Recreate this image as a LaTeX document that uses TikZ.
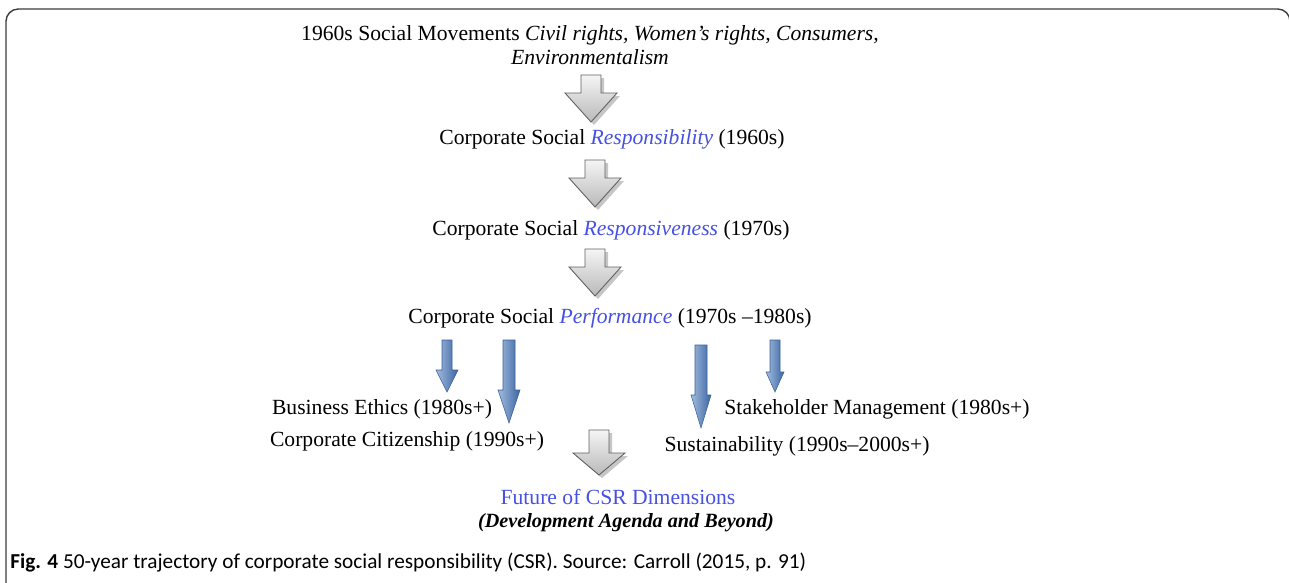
\documentclass[tikz,border=0pt]{standalone}
\usepackage{fontspec}
\setmainfont{Liberation Serif}
\newfontfamily\capfont{Carlito}
\usetikzlibrary{positioning}
\definecolor{csrblue}{RGB}{70,80,225}
\definecolor{arrowblue}{RGB}{70,120,190}
\definecolor{framegray}{RGB}{60,60,60}

% block arrow: [style] {x} {y top} {y head} {y tip} {shaft half} {head half}
\newcommand{\blockarrow}[7][]{%
  \draw[#1] (#2-#6,#3) -- (#2+#6,#3) -- (#2+#6,#4) -- (#2+#7,#4)
    -- (#2,#5) -- (#2-#7,#4) -- (#2-#6,#4) -- cycle;}

\tikzset{
  lbl/.style={font=\fontsize{12.3}{13.6}\selectfont, inner sep=0pt, align=center},
  graybox/.style={top color=gray!8, bottom color=gray!55, draw=gray!75!black, line width=0.5pt},
  grayshadow/.style={fill=gray!45, draw=none},
  bluebox/.style={left color=arrowblue!50!white, right color=arrowblue!85!black, draw=arrowblue!80!black, line width=0.3pt},
}

\begin{document}
\begin{tikzpicture}[x=0.02cm, y=-0.02cm]
  \useasboundingbox (0,0) rectangle (1289,582);
  \draw[framegray, line width=0.8pt, rounded corners=7pt] (6,9) rectangle (1290,600);

  % text
  \node[lbl] (sixties) at (590,45) {1960s Social Movements \textit{Civil rights, Women’s rights, Consumers,}\\ \textit{Environmentalism}};
  \node[lbl] (resp) at (612,139) {Corporate Social \textcolor{csrblue}{\textit{Responsibility}} (1960s)};
  \node[lbl] (respv) at (611,230) {Corporate Social \textcolor{csrblue}{\textit{Responsiveness}} (1970s)};
  \node[lbl] (perf) at (610,318) {Corporate Social \textcolor{csrblue}{\textit{Performance}} (1970s --1980s)};
  \node[lbl] (ethics) at (382,409) {Business Ethics (1980s+)};
  \node[lbl] (citizen) at (407,441) {Corporate Citizenship (1990s+)};
  \node[lbl] (stake) at (877,409) {Stakeholder Management (1980s+)};
  \node[lbl] (sustain) at (797,446) {Sustainability (1990s--2000s+)};
  \node[lbl, text=csrblue] (future) at (618,497) {Future of CSR Dimensions};
  \node[lbl, font=\fontsize{11.5}{12}\selectfont\bfseries\itshape] (agenda) at (626,523) {(Development Agenda and Beyond)};
  \node[anchor=west, inner sep=0pt, font=\capfont\fontsize{12.1}{13}\selectfont] (caption) at (10,563)
    {\textbf{Fig. 4} 50-year trajectory of corporate social responsibility (CSR). Source: Carroll (2015, p. 91)};

  % gray arrows
  \foreach \x/\yt/\yh/\yp in {591/75/93/122, 595/160/178/207, 595/249/267/296, 599/430/453/475}
  {
    \blockarrow[grayshadow]{\x+3}{\yt+3}{\yh+3}{\yp+3}{10}{26}
    \blockarrow[graybox]{\x}{\yt}{\yh}{\yp}{10}{26}
  }

  % blue arrows
  \blockarrow[bluebox]{447}{340}{370}{392}{5}{11}
  \blockarrow[bluebox]{509}{340}{390}{423}{6}{11}
  \blockarrow[bluebox]{701}{345}{395}{428}{6}{10}
  \blockarrow[bluebox]{775}{340}{372}{392}{5}{9}
\end{tikzpicture}
\end{document}
